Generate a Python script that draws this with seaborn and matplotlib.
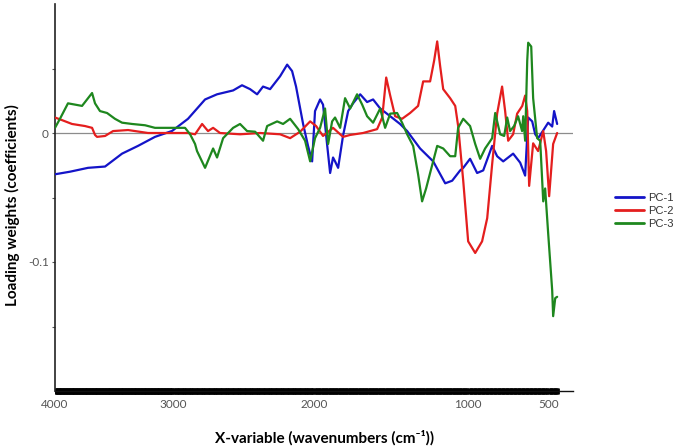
import numpy as np
import pandas as pd
import matplotlib
matplotlib.use("Agg")
import matplotlib.pyplot as plt
import seaborn as sns
from matplotlib.ticker import FixedLocator

# Loading weights (wavenumber in cm-1, weight)
pc1_wn = [4000, 3873, 3720, 3576, 3432, 3297, 3153, 3008, 2894, 2773, 2688, 2574,
          2511, 2454, 2404, 2362, 2312, 2241, 2191, 2156, 2128, 2078, 2043, 2014,
          1994, 1961, 1942, 1916, 1896, 1877, 1864, 1844, 1812, 1779, 1747, 1701,
          1656, 1617, 1571, 1506, 1442, 1396, 1312, 1227, 1149, 1104, 1052, 1032,
          988, 944, 906, 850, 819, 781, 719, 675, 644, 625, 600, 581, 563, 531,
          500, 475, 463, 444]
pc1_w = [-0.032, -0.030, -0.027, -0.026, -0.016, -0.010, -0.003, 0.0016, 0.011, 0.026,
         0.030, 0.033, 0.037, 0.034, 0.030, 0.036, 0.034, 0.044, 0.053, 0.048, 0.036,
         0.007, -0.010, -0.022, 0.017, 0.026, 0.022, -0.0085, -0.031, -0.019, -0.022,
         -0.027, -0.002, 0.017, 0.023, 0.030, 0.024, 0.026, 0.019, 0.013, 0.007, 0.0015,
         -0.012, -0.022, -0.039, -0.037, -0.029, -0.027, -0.020, -0.031, -0.029, -0.010,
         -0.018, -0.022, -0.016, -0.023, -0.033, 0.012, 0.009, -0.001, -0.004, 0.002,
         0.008, 0.005, 0.017, 0.007]

pc2_wn = [4000, 3941, 3856, 3746, 3686, 3661, 3644, 3576, 3508, 3381, 3212, 3008,
          2894, 2844, 2794, 2752, 2716, 2667, 2525, 2383, 2241, 2170, 2099, 2028,
          1987, 1942, 1877, 1812, 1766, 1682, 1591, 1558, 1532, 1506, 1474, 1429,
          1377, 1325, 1292, 1247, 1221, 1201, 1182, 1162, 1117, 1084, 1065, 1032,
          1000, 956, 913, 881, 850, 819, 788, 769, 750, 719, 694, 662, 644, 631,
          619, 594, 563, 531, 513, 494, 469, 444]
pc2_w = [0.012, 0.010, 0.007, 0.0054, 0.004, -0.0015, -0.003, -0.0023, 0.0015, 0.0023,
         0.0, 0.0, 0.0, -0.001, 0.007, 0.0015, 0.004, 0.0, -0.001, 0.0, -0.001, -0.004,
         0.001, 0.009, 0.0054, -0.0023, 0.004, -0.003, -0.0015, 0.0, 0.003, 0.012, 0.043,
         0.029, 0.013, 0.011, 0.0155, 0.021, 0.040, 0.040, 0.056, 0.071, 0.052, 0.034,
         0.027, 0.021, 0.0054, -0.037, -0.084, -0.093, -0.084, -0.066, -0.024, 0.015,
         0.036, 0.017, -0.006, -0.001, 0.015, 0.021, 0.029, 0.017, -0.041, -0.008,
         -0.014, 0.0015, -0.014, -0.049, -0.0085, 0.0]

pc3_wn = [4000, 3958, 3924, 3890, 3830, 3771, 3720, 3686, 3661, 3619, 3559, 3492,
          3432, 3347, 3237, 3153, 3008, 2915, 2879, 2844, 2830, 2773, 2716, 2688,
          2645, 2574, 2525, 2475, 2418, 2362, 2333, 2262, 2220, 2170, 2113, 2064,
          2028, 1994, 1961, 1929, 1909, 1883, 1864, 1831, 1799, 1766, 1721, 1688,
          1656, 1617, 1571, 1539, 1506, 1461, 1429, 1396, 1357, 1325, 1299, 1273,
          1247, 1201, 1162, 1117, 1084, 1065, 1032, 988, 956, 925, 894, 850, 831,
          800, 775, 756, 738, 713, 688, 663, 656, 644, 631, 625, 606, 594, 569,
          550, 531, 519, 500, 475, 469, 456, 444]
pc3_w = [0.004, 0.011, 0.017, 0.023, 0.022, 0.021, 0.027, 0.031, 0.023, 0.017, 0.0155,
         0.011, 0.008, 0.007, 0.006, 0.004, 0.004, 0.004, -0.001, -0.0085, -0.014,
         -0.027, -0.012, -0.019, -0.004, 0.004, 0.007, 0.0015, 0.001, -0.006, 0.0054,
         0.009, 0.007, 0.011, 0.003, -0.006, -0.022, -0.004, 0.004, 0.019, -0.0085,
         0.009, 0.012, 0.004, 0.027, 0.019, 0.030, 0.022, 0.013, 0.008, 0.019, 0.004,
         0.015, 0.0155, 0.008, -0.001, -0.010, -0.032, -0.053, -0.043, -0.031, -0.010,
         -0.012, -0.018, -0.018, 0.004, 0.011, 0.0054, -0.0085, -0.020, -0.012, -0.004,
         0.0155, -0.001, -0.0023, 0.012, 0.0015, 0.0054, 0.013, 0.0015, 0.013, -0.006,
         0.056, 0.070, 0.067, 0.027, -0.004, -0.006, -0.053, -0.043, -0.078, -0.122,
         -0.142, -0.128, -0.127]

components = ["PC-1", "PC-2", "PC-3"]
colors = ["#1414c8", "#e41e1e", "#1e871e"]

x_ticks = [4000, 3000, 2000, 1000, 500]
y_ticks = [-0.15, -0.1, -0.05, 0, 0.05]
y_tick_labels = ["", "-0.1", "", "0", ""]

# the printed wavenumber axis is not evenly spaced, so map it piecewise
scale_wn = [0, 500, 1000, 2000, 3000, 4000, 5000]
scale_pos = [-28, 52, 132, 286, 427, 545, 663]


def forward(x):
    return np.interp(x, scale_wn, scale_pos)


def inverse(u):
    return np.interp(u, scale_pos, scale_wn)


df = pd.concat([
    pd.DataFrame({"wavenumber": pc1_wn, "weight": pc1_w, "component": "PC-1"}),
    pd.DataFrame({"wavenumber": pc2_wn, "weight": pc2_w, "component": "PC-2"}),
    pd.DataFrame({"wavenumber": pc3_wn, "weight": pc3_w, "component": "PC-3"}),
], ignore_index=True)

sns.set_style("white")
plt.rcParams["font.family"] = ["Lato", "DejaVu Sans"]

fig = plt.figure(figsize=(6.73, 4.47), dpi=100)
ax = fig.add_axes([55 / 673, 1 - 391 / 447, 518 / 673, 387 / 447])
ax.set_xscale("function", functions=(forward, inverse))

ax.axhline(0, color="#8c8c8c", lw=0.9, zorder=1)
sns.lineplot(data=df, x="wavenumber", y="weight", hue="component",
             hue_order=components, palette=colors, estimator=None,
             sort=False, lw=1.6, ax=ax, zorder=3)

ax.set_xlim(4000, 345)
ax.set_ylim(-0.2, 0.1)

for side in ["top", "right"]:
    ax.spines[side].set_visible(False)
ax.spines["left"].set_color("#222222")
ax.spines["left"].set_linewidth(1.2)
ax.spines["bottom"].set_color("#111111")
ax.spines["bottom"].set_linewidth(1.0)

ax.xaxis.set_major_locator(FixedLocator(x_ticks))
ax.set_xticklabels([str(t) for t in x_ticks])
ax.xaxis.set_minor_locator(FixedLocator(np.arange(440, 4001, 5)))
ax.tick_params(axis="x", which="major", length=0, pad=6, labelsize=8.5,
               labelcolor="#555555")
ax.tick_params(axis="x", which="minor", bottom=True, direction="inout",
               length=4.5, width=2.0, color="black")

ax.yaxis.set_major_locator(FixedLocator(y_ticks))
ax.set_yticklabels(y_tick_labels)
ax.tick_params(axis="y", which="major", left=True, direction="out", length=2.5,
               width=0.8, color="#555555", pad=2, labelsize=8.5,
               labelcolor="#555555")

ax.set_xlabel("X-variable (wavenumbers (cm\u207b\u00b9))", fontsize=11,
              fontweight="bold", color="black")
ax.xaxis.set_label_coords(0.52, -0.1)
ax.xaxis.label.set_va("top")
ax.set_ylabel("Loading weights (coefficients)", fontsize=11,
              fontweight="bold", color="black")
ax.yaxis.set_label_coords(-0.068, 0.48)

handles, labels = ax.get_legend_handles_labels()
ax.get_legend().remove()
leg = fig.legend(handles, labels, loc="upper left",
                 bbox_to_anchor=(605 / 673, 1 - 183 / 447), frameon=False,
                 fontsize=8, handlelength=2.6, handletextpad=0.35,
                 labelspacing=0.27)
for line in leg.get_lines():
    line.set_linewidth(2.0)
for text in leg.get_texts():
    text.set_color("#333333")
    text.set_family(["Liberation Sans", "DejaVu Sans"])

fig.savefig("out.png", dpi=100)
